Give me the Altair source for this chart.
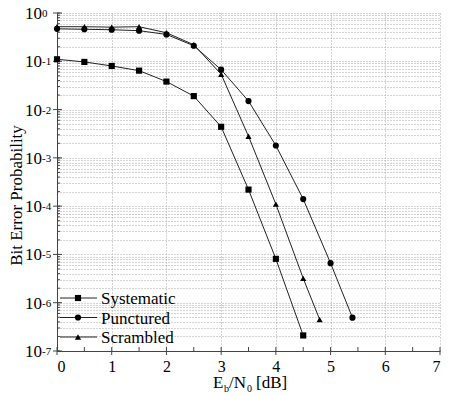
import math
import altair as alt
import pandas as pd

# ---- data ----
ebn0_sys = [0, 0.5, 1, 1.5, 2, 2.5, 3, 3.5, 4, 4.5]
ber_sys = [0.11, 0.097, 0.080, 0.064, 0.038, 0.019, 0.0044, 2.2e-4, 8.1e-6, 2.1e-7]
ebn0_punc = [0, 0.5, 1, 1.5, 2, 2.5, 3, 3.5, 4, 4.5, 5, 5.4]
ber_punc = [0.47, 0.46, 0.45, 0.43, 0.36, 0.21, 0.067, 0.015, 0.0018, 1.4e-4, 6.6e-6, 4.9e-7]
ebn0_scr = [0, 0.5, 1, 1.5, 2, 2.5, 3, 3.5, 4, 4.5, 4.8]
ber_scr = [0.52, 0.52, 0.51, 0.52, 0.39, 0.22, 0.054, 0.0028, 1.1e-4, 3.2e-6, 4.5e-7]

series_names = ["Systematic", "Punctured", "Scrambled"]
series_shapes = ["square", "circle", "triangle-up"]

x_ticks = [0, 1, 2, 3, 4, 5, 6, 7]
x_grid = [i * 0.5 for i in range(15)]
y_exps = [0, -1, -2, -3, -4, -5, -6, -7]
y_grid = [m * 10.0 ** e for e in range(-7, 0) for m in range(1, 10)] + [1.0]

FONT = "Liberation Serif"
W, H = 383, 338

rows = []
for name, xs, ys in [("Systematic", ebn0_sys, ber_sys),
                     ("Punctured", ebn0_punc, ber_punc),
                     ("Scrambled", ebn0_scr, ber_scr)]:
    for xv, yv in zip(xs, ys):
        rows.append({"x": xv, "y": yv, "series": name})
df = pd.DataFrame(rows)

xscale = alt.Scale(domain=[0, 7], nice=False, zero=False)
yscale = alt.Scale(type="log", domain=[1e-7, 1], nice=False)

X = alt.X("x:Q", scale=xscale,
          axis=alt.Axis(values=x_grid,
                        labelExpr="datum.value % 1 == 0 ? '' + datum.value : ''",
                        ticks=False, labelFont=FONT, labelFontSize=16, labelColor="black",
                        labelPadding=7, domainColor="#444", title=None,
                        grid=True, gridColor="#a8a8a8", gridDash=[1, 2]))
Y = alt.Y("y:Q", scale=yscale,
          axis=alt.Axis(values=y_grid, labels=False, ticks=False, domainColor="#444",
                        title="Bit Error Probability", titleFont=FONT, titleFontSize=17,
                        titleFontWeight="normal", titleColor="black", titleX=-41, titleY=182,
                        titleAngle=270, titleAlign="center", titleBaseline="middle",
                        grid=True, gridColor="#a8a8a8", gridDash=[1, 2]))

shape_scale = alt.Scale(domain=series_names, range=series_shapes)

lines = alt.Chart(df).mark_line(strokeWidth=1, color="#222").encode(
    x=X, y=Y, detail="series:N")
points = alt.Chart(df).mark_point(filled=True, opacity=1, color="black", size=38).encode(
    x=alt.X("x:Q", scale=xscale), y=alt.Y("y:Q", scale=yscale),
    shape=alt.Shape("series:N", scale=shape_scale, legend=None))

# inward / outward ticks
xt_df = pd.DataFrame({"x": x_grid})
xticks_in = alt.Chart(xt_df).mark_rule(color="#444", strokeWidth=1).encode(
    x=alt.X("x:Q", scale=xscale), y=alt.value(H), y2=alt.value(H - 4))
xo_df = pd.DataFrame({"x": x_ticks})
xticks_out = alt.Chart(xo_df).mark_rule(color="#444", strokeWidth=1).encode(
    x=alt.X("x:Q", scale=xscale), y=alt.value(H), y2=alt.value(H + 4))
is_major = [abs(round(math.log10(v)) - math.log10(v)) < 1e-9 for v in y_grid]
yt_df = pd.DataFrame({"y": y_grid, "major": is_major})
yticks_minor = alt.Chart(yt_df).mark_rule(color="#444", strokeWidth=1).encode(
    y=alt.Y("y:Q", scale=yscale), x=alt.value(0), x2=alt.value(3))
yticks_major = alt.Chart(yt_df[yt_df["major"]]).mark_rule(color="#444", strokeWidth=1).encode(
    y=alt.Y("y:Q", scale=yscale), x=alt.value(-4), x2=alt.value(5))

# y tick labels 10^n
yl_df = pd.DataFrame({"y": [10.0 ** e for e in y_exps], "base": ["10"] * len(y_exps),
                      "exp": [str(e) for e in y_exps]})
ylab_base = alt.Chart(yl_df).mark_text(font=FONT, fontSize=17, align="right", baseline="middle",
                                       color="black", dy=1).encode(
    y=alt.Y("y:Q", scale=yscale), x=alt.value(-15), text="base:N")
ylab_exp = alt.Chart(yl_df).mark_text(font=FONT, fontSize=11, align="left", baseline="top",
                                      color="black", dy=-5).encode(
    y=alt.Y("y:Q", scale=yscale), x=alt.value(-15), text="exp:N")

# x axis title E_b/N_0 [dB], built from pieces
big_parts = pd.DataFrame({"t": ["E", "/N", "[dB]"], "px": [156, 172, 199], "py": [375, 375, 375]})
small_parts = pd.DataFrame({"t": ["b", "0"], "px": [167, 190], "py": [379, 379]})
xtitle_big = alt.Chart(big_parts).mark_text(font=FONT, fontSize=17, align="left",
                                            baseline="alphabetic", color="black").encode(
    x=alt.X("px:Q", scale=None), y=alt.Y("py:Q", scale=None), text="t:N")
xtitle_small = alt.Chart(small_parts).mark_text(font=FONT, fontSize=10, align="left",
                                                baseline="alphabetic", color="black").encode(
    x=alt.X("px:Q", scale=None), y=alt.Y("py:Q", scale=None), text="t:N")

# manual legend (inside, lower left)
leg_df = pd.DataFrame({"series": series_names, "py": [285, 304.5, 324]})
leg_rule = alt.Chart(leg_df).mark_rule(color="#222", strokeWidth=1).encode(
    y=alt.Y("py:Q", scale=None), x=alt.value(3), x2=alt.value(40))
leg_pt = alt.Chart(leg_df).mark_point(filled=True, opacity=1, color="black", size=38).encode(
    y=alt.Y("py:Q", scale=None), x=alt.value(21),
    shape=alt.Shape("series:N", scale=shape_scale, legend=None))
leg_txt = alt.Chart(leg_df).mark_text(font=FONT, fontSize=17, align="left", baseline="middle",
                                      color="black", dy=1).encode(
    y=alt.Y("py:Q", scale=None), x=alt.value(44), text="series:N")

chart = alt.layer(
    lines, xticks_in, xticks_out, yticks_minor, yticks_major, points,
    ylab_base, ylab_exp, xtitle_big, xtitle_small, leg_rule, leg_pt, leg_txt
).properties(
    width=W, height=H,
    autosize=alt.AutoSizeParams(type="none"),
    padding={"left": 49, "top": 5, "right": 4, "bottom": 42},
).configure_view(stroke=None)

chart.save("out.html", embed_options={"renderer": "svg", "actions": False})
